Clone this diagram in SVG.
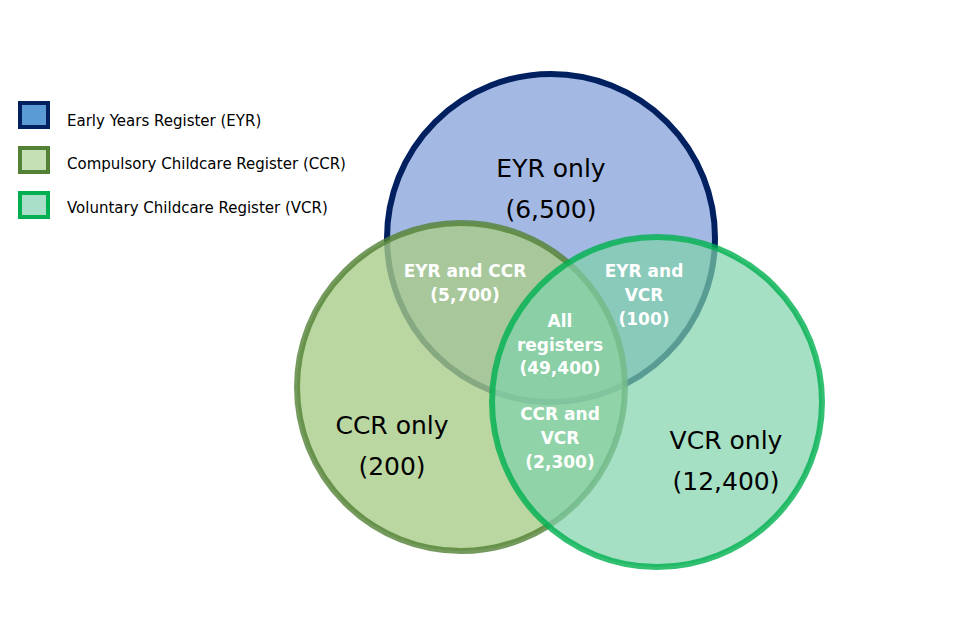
<svg xmlns="http://www.w3.org/2000/svg" width="960" height="640" viewBox="0 0 960 640">
<style>
text{font-family:"DejaVu Sans","Liberation Sans",sans-serif}
.leg{font-size:15px;fill:#000}
.big{font-size:25px;fill:#000;text-anchor:middle}
.w{font-size:17px;font-weight:bold;fill:#fff;text-anchor:middle}
.c{stroke-width:6}
</style>
<rect width="960" height="640" fill="#fff"/>
<g id="legend">
<rect x="20" y="103" width="28" height="24" fill="#5b9bd5" stroke="#002060" stroke-width="4"/>
<text class="leg" x="67" y="126">Early Years Register (EYR)</text>
<rect x="20" y="148" width="28" height="24" fill="#c5e0b4" stroke="#538135" stroke-width="4"/>
<text class="leg" x="67" y="169">Compulsory Childcare Register (CCR)</text>
<rect x="20" y="193" width="28" height="24" fill="#a9dfc8" stroke="#00b050" stroke-width="4"/>
<text class="leg" x="67" y="213">Voluntary Childcare Register (VCR)</text>
</g>
<g id="eyr"><circle class="c" cx="551" cy="238" r="164" fill="#a3b8e2" stroke="#002060"/></g>
<g id="ccr"><circle class="c" cx="461" cy="387" r="164" fill="#a9cc8a" fill-opacity="0.8" stroke="#538135" stroke-opacity="0.8"/></g>
<g id="vcr"><circle class="c" cx="657" cy="402" r="165" fill="#7fd1ab" fill-opacity="0.7" stroke="#00b050" stroke-opacity="0.8"/></g>
<g id="labels">
<text class="big" x="551" y="177">EYR only</text>
<text class="big" x="551" y="218">(6,500)</text>
<text class="big" x="392" y="434">CCR only</text>
<text class="big" x="392" y="475">(200)</text>
<text class="big" x="726" y="449">VCR only</text>
<text class="big" x="726" y="490">(12,400)</text>
<text class="w" x="465" y="277">EYR and CCR</text>
<text class="w" x="465" y="301">(5,700)</text>
<text class="w" x="644" y="277">EYR and</text>
<text class="w" x="644" y="301">VCR</text>
<text class="w" x="644" y="325">(100)</text>
<text class="w" x="560" y="327">All</text>
<text class="w" x="560" y="351">registers</text>
<text class="w" x="560" y="374">(49,400)</text>
<text class="w" x="560" y="420">CCR and</text>
<text class="w" x="560" y="444">VCR</text>
<text class="w" x="560" y="468">(2,300)</text>
</g>
</svg>
